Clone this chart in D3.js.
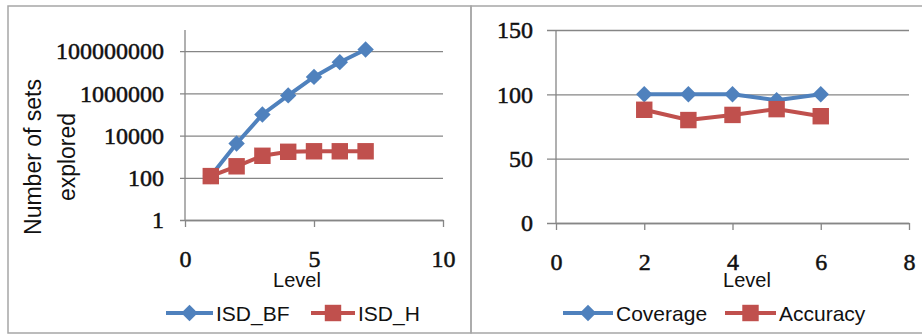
<!DOCTYPE html>
<html>
<head>
<meta charset="utf-8">
<script src="https://cdn.jsdelivr.net/npm/d3@7"></script>
<style>
  body { margin: 0; background: #fff; }
  svg { display: block; }
</style>
</head>
<body>
<div id="chart"></div>
<script>
/* Two Excel-style line charts side by side */

// left chart data
const levelsLeft = [1, 2, 3, 4, 5, 6, 7];
const isdBF = [120, 4200, 100000, 800000, 6000000, 30000000, 120000000];
const isdH = [120, 350, 1100, 1700, 1800, 1800, 1800];
const leftYTicks = [1, 100, 10000, 1000000, 100000000];
const leftXTicks = [0, 5, 10];

// right chart data
const levelsRight = [2, 3, 4, 5, 6];
const coverage = [100, 100, 100, 95.5, 100];
const accuracy = [88, 80, 84, 88.5, 83];
const rightYTicks = [0, 50, 100, 150];
const rightXTicks = [0, 2, 4, 6, 8];

const width = 922, height = 335;
const blue = "#4f81bd", red = "#c0504d", grid = "#868686";
const sans = "'Liberation Sans', Arial, sans-serif";
const serif = "'Liberation Serif', 'Times New Roman', serif";

let svg = d3.select("#chart")
    .append("svg")
    .attr("width", width)
    .attr("height", height);

// panel borders
svg.append("rect")
    .attr("x", 8).attr("y", 6)
    .attr("width", 463).attr("height", 327)
    .attr("fill", "none").attr("stroke", "#a6a6a6").attr("stroke-width", 1.5);
svg.append("rect")
    .attr("x", 471).attr("y", 6)
    .attr("width", 460).attr("height", 327)
    .attr("fill", "none").attr("stroke", "#a6a6a6").attr("stroke-width", 1.5);

function diamond(g, cx, cy, color) {
    g.append("path")
        .attr("d", d3.symbol(d3.symbolSquare, 135)())
        .attr("transform", `translate(${cx},${cy}) rotate(45)`)
        .attr("fill", color);
}
function square(g, cx, cy, color) {
    g.append("path")
        .attr("d", d3.symbol(d3.symbolSquare, 270)())
        .attr("transform", `translate(${cx},${cy})`)
        .attr("fill", color);
}

// draws one panel: axes, gridlines, series, legend
function panel(opt) {
    let g = svg.append("g");
    let x = opt.x, y = opt.y;
    let [x0, x1] = x.range();
    let [yb, yt] = y.range();

    // y gridlines + labels
    g.append("g")
        .attr("transform", `translate(${x0},0)`)
        .call(d3.axisLeft(y).tickValues(opt.yTicks)
            .tickSize(-(x1 - x0)).tickSizeOuter(0)
            .tickPadding(opt.yPad).tickFormat(d3.format("d")))
        .call(a => a.select(".domain").remove())
        .call(a => a.selectAll(".tick line")
            .attr("x1", -opt.yTick)
            .attr("stroke", grid).attr("stroke-width", 1.3))
        .call(a => a.selectAll("text")
            .attr("font-family", serif).attr("font-size", 24)
            .attr("fill", "#111").attr("stroke", "#111").attr("stroke-width", 0.5));

    // y axis line
    g.append("line")
        .attr("x1", x0).attr("x2", x0)
        .attr("y1", yt).attr("y2", yb)
        .attr("stroke", grid).attr("stroke-width", 1.3);

    // x axis
    g.append("g")
        .attr("transform", `translate(0,${yb})`)
        .call(d3.axisBottom(x).tickValues(opt.xTicks)
            .tickSize(7).tickSizeOuter(0).tickPadding(23))
        .call(a => a.select(".domain").attr("stroke", grid).attr("stroke-width", 1.3))
        .call(a => a.selectAll(".tick line").attr("stroke", grid).attr("stroke-width", 1.3))
        .call(a => a.selectAll("text")
            .attr("font-family", serif).attr("font-size", 24)
            .attr("fill", "#111").attr("stroke", "#111").attr("stroke-width", 0.5));

    g.append("text")
        .attr("x", opt.levelX).attr("y", 287)
        .attr("text-anchor", "middle")
        .attr("font-family", sans).attr("font-size", 20)
        .attr("fill", "#111")
        .text("Level");

    // series lines and markers
    opt.series.forEach(s => {
        let line = d3.line()
            .x((d, i) => x(opt.levels[i]))
            .y(d => y(d));
        g.append("path")
            .datum(s.values)
            .attr("d", line)
            .attr("fill", "none")
            .attr("stroke", s.color)
            .attr("stroke-width", 4);
        s.values.forEach((v, i) => s.marker(g, x(opt.levels[i]), y(v), s.color));
    });

    // legend
    opt.series.forEach(s => {
        let lg = s.legend;
        g.append("line")
            .attr("x1", lg.x1).attr("x2", lg.x2)
            .attr("y1", 313).attr("y2", 313)
            .attr("stroke", s.color).attr("stroke-width", 4);
        s.marker(g, (lg.x1 + lg.x2) / 2, 313, s.color);
        g.append("text")
            .attr("x", lg.x2 + 3).attr("y", 321)
            .attr("font-family", sans).attr("font-size", 21)
            .attr("fill", "#111")
            .text(s.name);
    });
    return g;
}

// left chart
let left = panel({
    x: d3.scaleLinear().domain([0, 10]).range([185, 443]),
    y: d3.scaleLog().domain([1, 1e9]).range([220, 30]),
    levels: levelsLeft,
    xTicks: leftXTicks,
    yTicks: leftYTicks,
    yTick: 5,
    yPad: 21,
    levelX: 297,
    series: [
        { name: "ISD_BF", values: isdBF, color: blue, marker: diamond, legend: { x1: 166, x2: 213 } },
        { name: "ISD_H", values: isdH, color: red, marker: square, legend: { x1: 311, x2: 355 } }
    ]
});

left.append("text")
    .attr("transform", "translate(41,157) rotate(-90)")
    .attr("text-anchor", "middle")
    .attr("font-family", sans).attr("font-size", 23)
    .attr("fill", "#111")
    .text("Number of sets");
left.append("text")
    .attr("transform", "translate(75,157) rotate(-90)")
    .attr("text-anchor", "middle")
    .attr("font-family", sans).attr("font-size", 23)
    .attr("fill", "#111")
    .text("explored");

// right chart
panel({
    x: d3.scaleLinear().domain([0, 8]).range([556, 909]),
    y: d3.scaleLinear().domain([0, 150]).range([223, 30]),
    levels: levelsRight,
    xTicks: rightXTicks,
    yTicks: rightYTicks,
    yTick: 9,
    yPad: 23,
    levelX: 747,
    series: [
        { name: "Coverage", values: coverage, color: blue, marker: diamond, legend: { x1: 563, x2: 613 } },
        { name: "Accuracy", values: accuracy, color: red, marker: square, legend: { x1: 725, x2: 776 } }
    ]
});
</script>
</body>
</html>
